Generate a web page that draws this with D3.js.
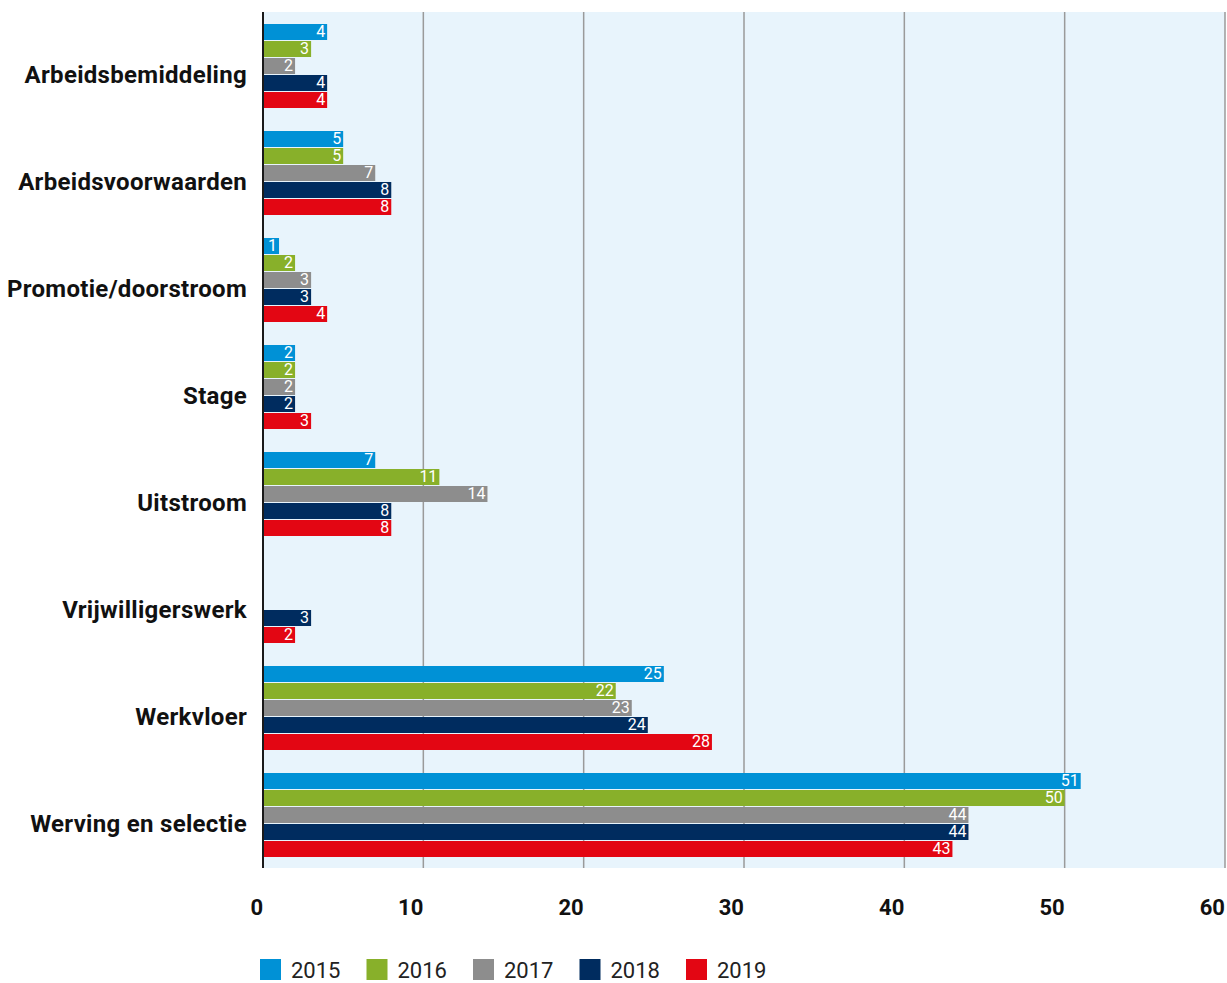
<!DOCTYPE html>
<html>
<head>
<meta charset="utf-8">
<script src="https://cdn.jsdelivr.net/npm/d3@7"></script>
<style>
  body { margin: 0; background: #ffffff; }
  svg { display: block; }
</style>
</head>
<body>
<div id="chart"></div>
<script>
// categories and values per year (null = no bar)
var categories = ["Arbeidsbemiddeling", "Arbeidsvoorwaarden", "Promotie/doorstroom", "Stage",
                  "Uitstroom", "Vrijwilligerswerk", "Werkvloer", "Werving en selectie"];
var years = ["2015", "2016", "2017", "2018", "2019"];
var values2015 = [4, 5, 1, 2, 7, null, 25, 51];
var values2016 = [3, 5, 2, 2, 11, null, 22, 50];
var values2017 = [2, 7, 3, 2, 14, null, 23, 44];
var values2018 = [4, 8, 3, 2, 8, 3, 24, 44];
var values2019 = [4, 8, 4, 3, 8, 2, 28, 43];
var xTicks = [0, 10, 20, 30, 40, 50, 60];

var colors = {"2015": "#0091d6", "2016": "#88b02a", "2017": "#8d8d8d", "2018": "#002c5f", "2019": "#e30613"};

function drawChart() {
  var series = [values2015, values2016, values2017, values2018, values2019];
  var rows = [];
  categories.forEach(function(c, i) {
    years.forEach(function(yr, j) {
      if (series[j][i] != null) rows.push({cat: c, year: yr, value: series[j][i]});
    });
  });

  var W = 1227, H = 983;
  var plot = {left: 263, right: 1225, top: 12, bottom: 868};

  var svg = d3.select("#chart")
    .append("svg")
      .attr("width", W)
      .attr("height", H);

  var x = d3.scaleLinear()
    .domain([0, 60])
    .range([plot.left, plot.right]);

  var y0 = d3.scaleBand()
    .domain(categories)
    .range([plot.top, plot.bottom]);

  var y1 = d3.scaleBand()
    .domain(years)
    .range([12, 96])
    .paddingInner(1 / 17);

  // plot background
  svg.append("rect")
    .attr("x", plot.left)
    .attr("y", plot.top)
    .attr("width", plot.right - plot.left)
    .attr("height", plot.bottom - plot.top)
    .style("fill", "#e8f4fc");

  // gridlines
  svg.selectAll(".grid")
    .data(xTicks.slice(1))
    .enter()
    .append("line")
      .attr("x1", function(d) { return x(d); })
      .attr("x2", function(d) { return x(d); })
      .attr("y1", plot.top)
      .attr("y2", plot.bottom)
      .style("stroke", "#9a9a9a")
      .style("stroke-width", 1.5);

  // bars
  var bar = svg.selectAll(".bar")
    .data(rows)
    .enter()
    .append("g");

  bar.append("rect")
    .attr("x", x(0))
    .attr("y", function(d) { return y0(d.cat) + y1(d.year); })
    .attr("width", function(d) { return x(d.value) - x(0); })
    .attr("height", y1.bandwidth())
    .style("fill", function(d) { return colors[d.year]; });

  bar.append("text")
    .attr("x", function(d) { return x(d.value) - 2; })
    .attr("y", function(d) { return y0(d.cat) + y1(d.year) + 13; })
    .attr("text-anchor", "end")
    .style("font-family", "Roboto, sans-serif")
    .style("font-size", "16px")
    .style("fill", "#ffffff")
    .text(function(d) { return d.value; });

  // y axis line
  svg.append("line")
    .attr("x1", plot.left)
    .attr("x2", plot.left)
    .attr("y1", plot.top)
    .attr("y2", plot.bottom)
    .style("stroke", "#1a1a1a")
    .style("stroke-width", 2);

  // category labels
  svg.selectAll(".cat")
    .data(categories)
    .enter()
    .append("text")
      .attr("x", 247)
      .attr("y", function(d) { return y0(d) + y0.bandwidth() / 2 + 17; })
      .attr("text-anchor", "end")
      .style("font-family", "Roboto, sans-serif")
      .style("font-weight", "bold")
      .style("font-size", "24px")
      .style("letter-spacing", "0.3px")
      .style("fill", "#111")
      .text(function(d) { return d; });

  // x tick labels (end at their gridline)
  svg.selectAll(".tick")
    .data(xTicks)
    .enter()
    .append("text")
      .attr("x", function(d) { return x(d); })
      .attr("y", 915)
      .attr("text-anchor", "end")
      .style("font-family", "Roboto, sans-serif")
      .style("font-weight", "bold")
      .style("font-size", "22px")
      .style("fill", "#111")
      .text(function(d) { return d; });

  // legend
  var legendX = d3.scalePoint()
    .domain(years)
    .range([260, 686]);

  var leg = svg.selectAll(".legend")
    .data(years)
    .enter()
    .append("g")
      .attr("transform", function(d) { return "translate(" + legendX(d) + ",959)"; });

  leg.append("rect")
    .attr("width", 21)
    .attr("height", 21)
    .style("fill", function(d) { return colors[d]; });

  leg.append("text")
    .attr("x", 31)
    .attr("y", 19)
    .style("font-family", "Roboto, sans-serif")
    .style("font-size", "22px")
    .style("fill", "#222")
    .text(function(d) { return d; });
}

drawChart();
</script>
</body>
</html>
